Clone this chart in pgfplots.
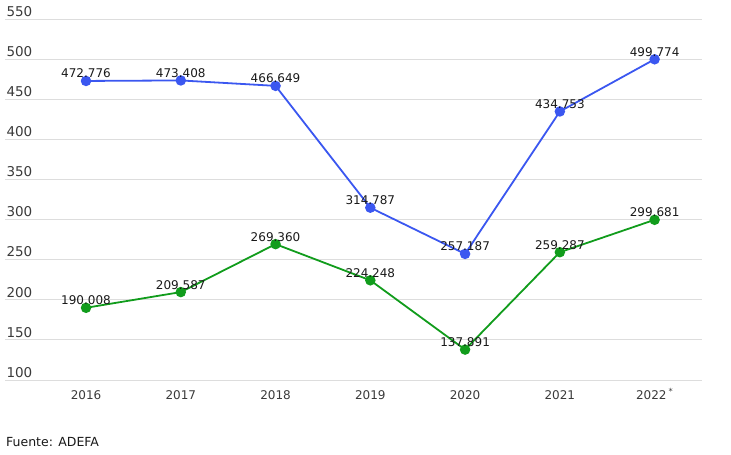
\documentclass[border=0pt]{standalone}
\usepackage{pgfplots}
\pgfplotsset{compat=1.18}
\usepackage{fontspec}
\setmainfont{DejaVu Sans}
\definecolor{blueline}{HTML}{3B57F0}
\definecolor{greenline}{HTML}{119C1C}
\definecolor{gridgray}{HTML}{DDDDDD}
\definecolor{ticktext}{HTML}{3A3A3A}
\begin{document}
\begin{tikzpicture}
\useasboundingbox (-5bp,-75bp) rectangle (726bp,380bp);
\begin{axis}[
  at={(0,0)}, anchor=south west,
  scale only axis,
  width=697bp, height=361bp,
  xmin=-0.855, xmax=6.5,
  ymin=100, ymax=550,
  ytick={100,150,...,550},
  xtick={0,...,6},
  xticklabels={2016,2017,2018,2019,2020,2021,2022\,\textsuperscript{*}},
  axis line style={draw=none},
  major tick length=0pt,
  ymajorgrids,
  grid style={gridgray, line width=1bp},
  /pgf/number format/assume math mode=true,
  yticklabel style={anchor=south west, xshift=-2bp, yshift=-1bp, text=ticktext, font=\fontsize{13.5bp}{15bp}\selectfont},
  xticklabel style={anchor=base, yshift=-19bp, text=ticktext, font=\fontsize{12bp}{14bp}\selectfont},
  clip=false,
  nodes near coords,
  point meta=explicit symbolic,
  every node near coord/.style={anchor=south, inner sep=2bp, yshift=0bp, text=black!90, font=\fontsize{12bp}{14bp}\selectfont},
]
\addplot[blueline, line width=1.8bp, mark=*, mark size=4.3bp, mark options={fill=blueline, draw=blueline}]
  table[meta=lab] {
x y lab
0 472.776 472.776
1 473.408 473.408
2 466.649 466.649
3 314.787 314.787
4 257.187 257.187
5 434.753 434.753
6 499.774 499.774
};
\addplot[greenline, line width=1.8bp, mark=*, mark size=4.3bp, mark options={fill=greenline, draw=greenline}]
  table[meta=lab] {
x y lab
0 190.008 190.008
1 209.587 209.587
2 269.360 269.360
3 224.248 224.248
4 137.891 137.891
5 259.287 259.287
6 299.681 299.681
};
\end{axis}
\node[anchor=west, inner sep=0pt, font=\fontsize{12.5bp}{14bp}\selectfont, text=black!90] at (1bp,-62bp) {Fuente: ADEFA};
\end{tikzpicture}
\end{document}
